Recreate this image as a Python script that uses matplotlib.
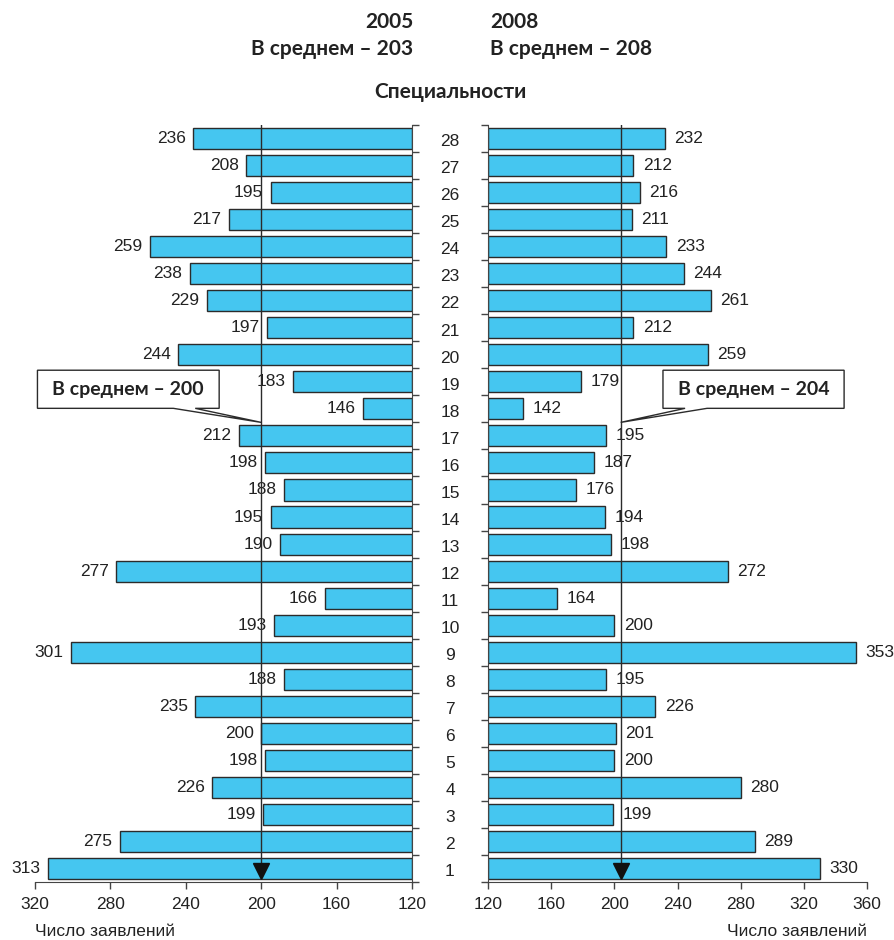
import numpy as np
import matplotlib.pyplot as plt
from matplotlib.patches import Polygon

# specialties 1..28
cats = list(range(1, 29))
v2005 = [313, 275, 199, 226, 198, 200, 235, 188, 301, 193, 166, 277, 190, 195,
         188, 198, 212, 146, 183, 244, 197, 229, 238, 259, 217, 195, 208, 236]
v2008 = [330, 289, 199, 280, 200, 201, 226, 195, 353, 200, 164, 272, 198, 194,
         176, 187, 195, 142, 179, 259, 212, 261, 244, 233, 211, 216, 212, 232]
mean_left = 200
mean_right = 204
ticks_left = [320, 280, 240, 200, 160, 120]
ticks_right = [120, 160, 200, 240, 280, 320, 360]

narrow = ['Liberation Sans', 'DejaVu Sans']
bold = ['Lato', 'DejaVu Sans']
bar_col = '#45C6F0'
dark = '#2b2b2b'

fig = plt.figure(figsize=(8.94, 9.40), dpi=100)
W, H = 894, 940
bot = 1 - 882 / H
hgt = (882 - 125) / H
axl = fig.add_axes([35 / W, bot, 377 / W, hgt])
axr = fig.add_axes([488 / W, bot, 379 / W, hgt])

y = np.array(cats)
axl.barh(y, np.array(v2005) - 120, left=120, height=0.78, color=bar_col,
         edgecolor=dark, linewidth=1, zorder=2)
axr.barh(y, np.array(v2008) - 120, left=120, height=0.78, color=bar_col,
         edgecolor=dark, linewidth=1, zorder=2)

for yi, v in zip(y, v2005):
    axl.text(v + 4, yi, str(v), ha='right', va='center', fontsize=12.5,
             family=narrow, color='#222')
for yi, v in zip(y, v2008):
    axr.text(v + 6, yi, str(v), ha='left', va='center', fontsize=12.5,
             family=narrow, color='#222')

axl.set_xlim(320, 120)
axr.set_xlim(120, 360)
for ax in (axl, axr):
    ax.set_ylim(0.5, 28.5)
    ax.spines['top'].set_visible(False)
    ax.set_yticks(np.arange(0.5, 29, 1))
    ax.set_yticklabels([])
    ax.tick_params(axis='both', direction='out', length=5, width=1, color='#444')
    ax.tick_params(axis='x', pad=6, labelsize=12.5)
    for s in ax.spines.values():
        s.set_color('#444')
axl.spines['left'].set_visible(False)
axl.yaxis.tick_right()
axr.spines['right'].set_visible(False)
axl.set_xticks(ticks_left)
axr.set_xticks(ticks_right)
for ax in (axl, axr):
    for lab in ax.get_xticklabels():
        lab.set_family(narrow)
        lab.set_color('#222')

# category numbers in the gap
for c in cats:
    axr.text(-0.1003, c - 0.12, str(c), transform=axr.get_yaxis_transform(),
             ha='center', va='center', fontsize=12.5, family=narrow, color='#222')

# mean lines with arrow
for ax, m in ((axl, mean_left), (axr, mean_right)):
    ax.plot([m, m], [28.5, 0.9], color=dark, lw=1, zorder=4)
    ax.plot([m], [0.9], marker='v', markersize=11, color='#111', zorder=5,
            clip_on=False)

# callouts
def callout(ax, x0, x1, w0, w1, tip_x, text):
    yb, yt, tip_y = 18.02, 19.43, 17.5
    pts = [(x0, yt), (x1, yt), (x1, yb), (w1, yb), (tip_x, tip_y),
           (w0, yb), (x0, yb)]
    ax.add_patch(Polygon(pts, closed=True, facecolor='white', edgecolor=dark,
                         lw=1, zorder=6, clip_on=False))
    ax.text((x0 + x1) / 2, (yb + yt) / 2, text, ha='center', va='center',
            fontsize=14, fontweight='bold', family=bold, color='#222', zorder=7)

callout(axl, 318.7, 222.3, 246.6, 235.0, mean_left, 'В среднем – 200')
callout(axr, 230.8, 345.5, 244.8, 258.7, mean_right, 'В среднем – 204')

# headings
hkw = dict(fontsize=15, fontweight='bold', family=bold, color='#222')
fig.text(413 / W, 1 - 28 / H, '2005', ha='right', va='baseline', **hkw)
fig.text(413 / W, 1 - 55 / H, 'В среднем – 203', ha='right', va='baseline', **hkw)
fig.text(490 / W, 1 - 28 / H, '2008', ha='left', va='baseline', **hkw)
fig.text(490 / W, 1 - 55 / H, 'В среднем – 208', ha='left', va='baseline', **hkw)
fig.text(450 / W, 1 - 98 / H, 'Специальности', ha='center', va='baseline', **hkw)

fig.text(35 / W, 4 / H, 'Число заявлений', ha='left', va='baseline',
         fontsize=12.5, family=narrow, color='#222')
fig.text(867 / W, 4 / H, 'Число заявлений', ha='right', va='baseline',
         fontsize=12.5, family=narrow, color='#222')

fig.savefig('out.png', dpi=100, facecolor='white')
